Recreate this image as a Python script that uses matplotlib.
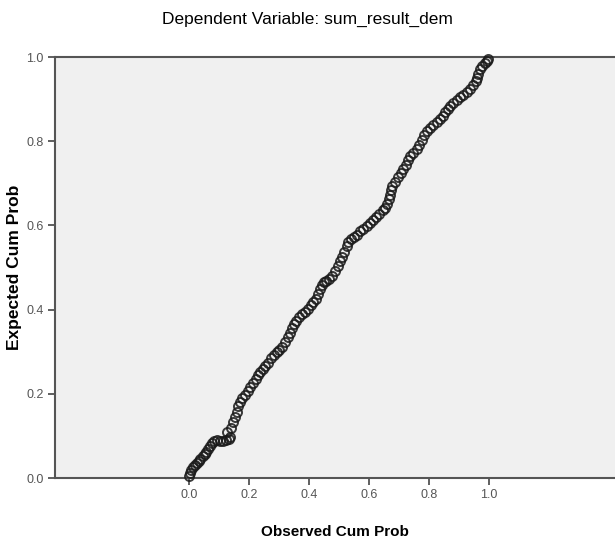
import matplotlib.pyplot as plt

# P-P plot points (observed, expected cumulative probability)
observed = [
    0.000, 0.003, 0.008, 0.014, 0.020, 0.026, 0.032, 0.038, 0.045, 0.052,
    0.058, 0.064, 0.070, 0.076, 0.083, 0.092, 0.102, 0.112, 0.122, 0.132,
    0.137, 0.126, 0.140, 0.148, 0.154, 0.159, 0.164, 0.170, 0.178, 0.186,
    0.195, 0.203, 0.212, 0.222, 0.230, 0.238,
    0.246, 0.253, 0.262, 0.272, 0.282, 0.292, 0.300, 0.310, 0.320, 0.330,
    0.337, 0.344, 0.350, 0.356, 0.366, 0.376, 0.386, 0.396, 0.406, 0.414,
    0.422, 0.430, 0.437, 0.443, 0.450, 0.458, 0.466, 0.476, 0.487, 0.495,
    0.503, 0.510, 0.518, 0.525, 0.531, 0.540, 0.550, 0.560, 0.570, 0.580,
    0.592, 0.603, 0.614, 0.624, 0.634, 0.645, 0.653, 0.660, 0.666, 0.670,
    0.672, 0.678, 0.688, 0.698, 0.706, 0.714, 0.722, 0.730, 0.738, 0.748,
    0.759, 0.768, 0.776, 0.784, 0.792, 0.802, 0.814, 0.826, 0.837, 0.846,
    0.854, 0.862, 0.870, 0.880, 0.892, 0.903, 0.914, 0.926, 0.937, 0.946,
    0.955, 0.960, 0.963, 0.970, 0.978, 0.985, 0.992, 0.996,
]
expected = [
    0.005, 0.012, 0.020, 0.026, 0.031, 0.036, 0.041, 0.046, 0.052, 0.058,
    0.063, 0.068, 0.076, 0.083, 0.088, 0.090, 0.089, 0.088, 0.090, 0.092,
    0.098, 0.110, 0.120, 0.132, 0.145, 0.158, 0.170, 0.180, 0.190, 0.198,
    0.207, 0.217, 0.226, 0.236, 0.244, 0.251,
    0.258, 0.265, 0.274, 0.284, 0.293, 0.300, 0.305, 0.312, 0.322, 0.334,
    0.345, 0.356, 0.366, 0.374, 0.382, 0.389, 0.395, 0.402, 0.410, 0.417,
    0.426, 0.437, 0.448, 0.458, 0.465, 0.469, 0.472, 0.480, 0.491, 0.503,
    0.515, 0.526, 0.538, 0.550, 0.561, 0.567, 0.572, 0.578, 0.586, 0.592,
    0.598, 0.606, 0.614, 0.621, 0.628, 0.636, 0.642, 0.652, 0.662, 0.672,
    0.684, 0.694, 0.704, 0.716, 0.725, 0.733, 0.744, 0.755, 0.764, 0.772,
    0.781, 0.792, 0.803, 0.814, 0.825, 0.832, 0.838, 0.845, 0.852, 0.861,
    0.870, 0.877, 0.884, 0.891, 0.898, 0.904, 0.910, 0.917, 0.924, 0.934,
    0.942, 0.950, 0.960, 0.971, 0.979, 0.985, 0.991, 0.996,
]
ticks = [0.0, 0.2, 0.4, 0.6, 0.8, 1.0]
tick_labels = ["0.0", "0.2", "0.4", "0.6", "0.8", "1.0"]

font = ["Liberation Sans", "DejaVu Sans"]

fig = plt.figure(figsize=(6.15, 5.46), dpi=100)
ax = fig.add_axes([0.0894, 0.1245, 0.9106, 0.771])
ax.set_facecolor("#f0f0f0")

ax.plot(observed, expected, linestyle="none", marker="o", markersize=6.5,
        markerfacecolor="none", markeredgecolor="#1a1a1a", markeredgewidth=1.4,
        alpha=0.85, clip_on=False, zorder=3)

ax.set_xlim(-0.447, 1.42)
ax.set_ylim(0, 1)
ax.set_xticks(ticks, tick_labels)
ax.set_yticks(ticks, tick_labels)
ax.tick_params(direction="out", length=5, width=1.2, color="#444444",
               labelcolor="#555555", labelsize=9, pad=3)
for lab in ax.get_xticklabels() + ax.get_yticklabels():
    lab.set_family(font)

for side in ["left", "bottom", "top"]:
    ax.spines[side].set_color("#555555")
    ax.spines[side].set_linewidth(1.5)
ax.spines["right"].set_visible(False)

ax.set_xlabel("Observed Cum Prob", family=font, fontweight="bold",
              fontsize=11, labelpad=17)
ax.set_ylabel("Expected Cum Prob", family=font,
              fontweight="bold", fontsize=12.5, labelpad=3)
fig.text(0.5, 0.965, "Dependent Variable: sum_result_dem", family=font,
         fontsize=12.5, ha="center", va="center")

plt.savefig("out.png", dpi=100)
